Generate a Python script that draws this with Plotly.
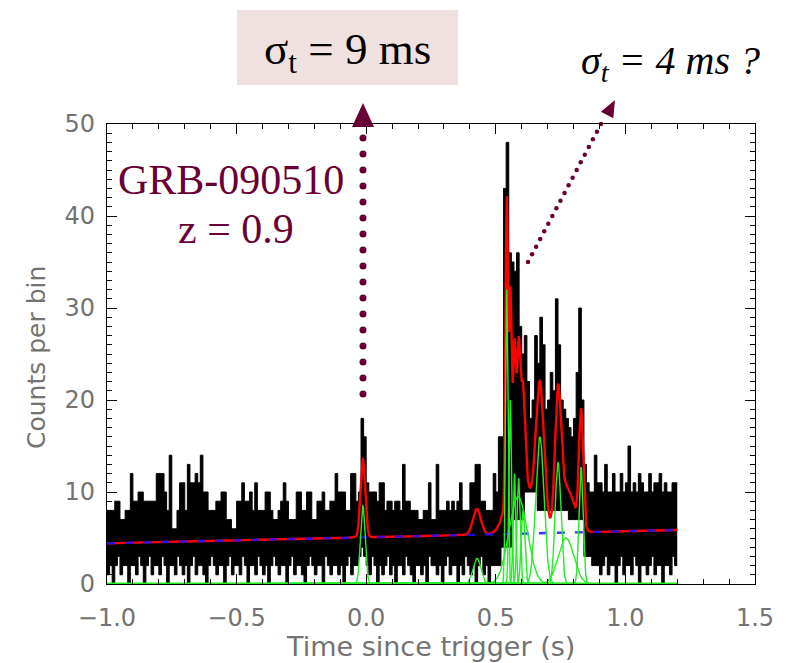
import numpy as np
import plotly.graph_objects as go

# ---------------- data ----------------
bin_start = -1.0
bin_width = 0.01

# upper / lower envelope of the counts per 10 ms column
counts_hi = [
    8, 8, 8, 9, 9, 7, 7, 8, 8, 12,
    9, 9, 10, 10, 9, 9, 9, 9, 9, 12,
    12, 12, 10, 8, 14, 6, 6, 8, 11, 11,
    8, 13, 11, 11, 12, 11, 14, 10, 10, 8,
    8, 8, 9, 9, 10, 10, 7, 7, 6, 6,
    9, 9, 11, 9, 9, 10, 8, 11, 8, 8,
    8, 10, 10, 8, 7, 7, 8, 9, 11, 9,
    7, 7, 7, 10, 10, 8, 8, 10, 10, 7,
    7, 9, 9, 10, 8, 8, 9, 9, 12, 10,
    10, 10, 8, 8, 12, 12, 9, 10, 18, 16,
    11, 10, 10, 10, 9, 11, 11, 8, 9, 9,
    8, 9, 9, 8, 13, 9, 9, 8, 8, 8,
    7, 7, 8, 8, 11, 7, 7, 13, 8, 8,
    8, 9, 8, 9, 8, 9, 11, 8, 8, 8,
    11, 11, 13, 13, 9, 9, 8, 8, 8, 12,
    10, 16, 16, 43, 48, 36, 35, 34, 36, 28,
    25, 27, 22, 18, 20, 27, 24, 29, 26, 19,
    20, 23, 21, 31, 26, 20, 19, 18, 17, 16,
    18, 23, 30, 20, 13, 11, 10, 10, 14, 11,
    11, 10, 13, 10, 10, 12, 10, 10, 12, 10,
    11, 15, 10, 11, 10, 12, 11, 10, 10, 12,
    10, 11, 11, 12, 10, 11, 10, 10, 11, 11,
]
counts_lo = [
    1, 2, 0, 2, 3, 1, 2, 2, 0, 2,
    2, 1, 3, 2, 0, 2, 3, 1, 2, 2,
    1, 3, 2, 0, 2, 2, 1, 3, 2, 1,
    2, 0, 2, 3, 1, 2, 2, 1, 0, 2,
    3, 2, 1, 2, 2, 0, 2, 3, 1, 2,
    2, 1, 3, 2, 0, 2, 2, 1, 3, 2,
    1, 2, 0, 2, 3, 2, 1, 2, 2, 0,
    2, 3, 1, 2, 2, 1, 0, 2, 3, 2,
    1, 2, 2, 0, 3, 2, 1, 2, 2, 1,
    2, 0, 2, 3, 1, 2, 2, 3, 4, 3,
    2, 1, 3, 2, 0, 2, 1, 2, 3, 1,
    2, 0, 2, 2, 1, 3, 2, 1, 0, 2,
    2, 1, 2, 0, 3, 2, 2, 1, 2, 0,
    2, 3, 1, 2, 2, 0, 2, 1, 3, 2,
    1, 2, 0, 2, 3, 1, 2, 0, 2, 2,
    2, 2, 4, 4, 4, 4, 7, 7, 7, 7,
    7, 10, 10, 10, 10, 10, 8, 8, 8, 8,
    8, 8, 8, 8, 8, 8, 8, 8, 7, 7,
    7, 7, 7, 7, 3, 3, 3, 2, 2, 2,
    1, 2, 3, 1, 2, 2, 0, 2, 3, 1,
    2, 2, 1, 3, 2, 0, 2, 2, 1, 2,
    3, 1, 2, 2, 0, 2, 2, 1, 3, 2,
]

# fitted Gaussian pulses (centre [s], amplitude [counts], width [s])
pulse_time = [-0.013, 0.427, 0.542, 0.556, 0.572, 0.588, 0.586, 0.605, 0.670, 0.740, 0.771, 0.829]
pulse_amp = [8.5, 2.8, 32.0, 20.0, 12.0, 11.5, 9.5, 8.0, 16.0, 13.2, 5.0, 12.7]
pulse_sigma = [0.009, 0.015, 0.0045, 0.005, 0.005, 0.006, 0.035, 0.007, 0.016, 0.011, 0.030, 0.008]

# linear background: level at t=0 and slope per second
bg_level = 5.08
bg_slope = 0.66
model_span = [-1.0, 1.2]

x_ticks = [-1.0, -0.5, 0.0, 0.5, 1.0, 1.5]
y_ticks = [0, 10, 20, 30, 40, 50]

# ---------------- figure ----------------
MAROON = "#690035"
GREEN = "#22ee22"
TICKCOL = "#737373"

# the page body adds an 8 px margin, so the figure is 8 px smaller on each axis
OFF = 8
FIG_W, FIG_H = 786 - OFF, 663 - OFF

n_bins = len(counts_hi)
edges = bin_start + bin_width * np.arange(n_bins + 1)
hi_y = list(counts_hi) + [counts_hi[-1]]
lo_y = list(counts_lo) + [counts_lo[-1]]

t = np.linspace(model_span[0], model_span[1], 4401)
background = bg_level + bg_slope * t
pulses = [a * np.exp(-0.5 * ((t - c) / s) ** 2) for c, a, s in zip(pulse_time, pulse_amp, pulse_sigma)]
model = background + np.sum(pulses, axis=0)

fig = go.Figure()

# histogram envelope (filled black band)
fig.add_trace(go.Scatter(x=edges, y=lo_y, mode="lines", line=dict(color="black", width=1, shape="hv"),
                         hoverinfo="skip"))
fig.add_trace(go.Scatter(x=edges, y=hi_y, mode="lines", line=dict(color="black", width=1, shape="hv"),
                         fill="tonexty", fillcolor="black", hoverinfo="skip"))

# total model
fig.add_trace(go.Scatter(x=t, y=model, mode="lines", line=dict(color="#ff0000", width=2.4)))
# background
fig.add_trace(go.Scatter(x=t, y=background, mode="lines",
                         line=dict(color="rgba(20,20,255,0.85)", width=2.4, dash="8px,10px")))
# individual pulses
fig.add_trace(go.Scatter(x=t, y=np.zeros_like(t), mode="lines", line=dict(color=GREEN, width=3)))
for p in pulses:
    fig.add_trace(go.Scatter(x=t, y=p, mode="lines", line=dict(color=GREEN, width=1.4)))

# ---------------- annotation geometry (screen pixel space) ----------------
L, R, T, B = 107, 755, 124, 584


def px(x, y):
    return f"{(x - L) / (R - L):.5f},{(B - y) / (B - T):.5f}"


# dotted arrow 1 (vertical)
d1_y = np.arange(394, 134, -16)
d1_x = np.full_like(d1_y, 363, dtype=float)
# dotted arrow 2 (diagonal)
d2_x = np.linspace(528, 601, 19)
d2_y = np.linspace(262, 124, 19)

fig.add_trace(go.Scatter(x=d1_x, y=d1_y, xaxis="x2", yaxis="y2", mode="markers", cliponaxis=False,
                         marker=dict(color=MAROON, size=7, line=dict(width=0))))
fig.add_trace(go.Scatter(x=d2_x, y=d2_y, xaxis="x2", yaxis="y2", mode="markers", cliponaxis=False,
                         marker=dict(color=MAROON, size=4.5, line=dict(width=0))))

shapes = [
    dict(type="rect", xref="paper", yref="paper",
         x0=(237 - L) / (R - L), x1=(458 - L) / (R - L),
         y0=(B - 85) / (B - T), y1=(B - 10) / (B - T),
         fillcolor="#f0e1e1", line=dict(width=0), layer="below"),
    dict(type="path", xref="paper", yref="paper",
         path=f"M{px(363, 103)} L{px(374, 127)} L{px(352, 127)} Z",
         fillcolor=MAROON, line=dict(width=0)),
    dict(type="path", xref="paper", yref="paper",
         path=f"M{px(615, 100)} L{px(613.3, 118.3)} L{px(600.9, 111.7)} Z",
         fillcolor=MAROON, line=dict(width=0)),
]


def ann(text, x, y, size, color, family, angle=0):
    return dict(text=text, xref="paper", yref="paper", x=(x - L) / (R - L), y=(B - y) / (B - T),
                xanchor="center", yanchor="middle", showarrow=False, textangle=angle,
                font=dict(family=family, size=size, color=color))


annotations = [
    ann("σ<sub>t</sub> = 9 ms", 347, 52, 45, "black", "Liberation Serif"),
    ann("<i>σ<sub>t</sub> = 4 ms ?</i>", 670, 63, 40, "black", "Liberation Serif"),
    ann("GRB-090510", 231, 180, 42, MAROON, "Liberation Serif"),
    ann("z = 0.9", 236, 229, 42, MAROON, "Liberation Serif"),
    # axis titles
    ann("Time since trigger (s)", 430, 646, 27, TICKCOL, "DejaVu Sans"),
    ann("Counts per bin", 36, 358, 25, TICKCOL, "DejaVu Sans", angle=-90),
]

axis_common = dict(showgrid=False, zeroline=False, showline=True, linecolor="black", linewidth=1.3,
                   mirror="allticks", ticks="inside", ticklen=10, tickwidth=1.2, tickcolor="black",
                   automargin=False,
                   tickfont=dict(family="DejaVu Sans", size=24, color=TICKCOL))

fig.update_layout(
    width=FIG_W, height=FIG_H, autosize=False,
    margin=dict(l=L - OFF, r=786 - R, t=T - OFF, b=663 - B, pad=0),
    paper_bgcolor="white", plot_bgcolor="white", showlegend=False,
    shapes=shapes, annotations=annotations,
    xaxis=dict(range=[-1.0, 1.5], tickvals=x_ticks, tickformat=".1f",
               minor=dict(dtick=0.1, ticks="inside", ticklen=5, tickcolor="black", tickwidth=1.2),
               ticklabelstandoff=12,
               **axis_common),
    yaxis=dict(range=[0, 50], tickvals=y_ticks,
               minor=dict(dtick=1, ticks="inside", ticklen=5, tickcolor="black", tickwidth=1.2),
               ticklabelstandoff=6,
               **axis_common),
    xaxis2=dict(overlaying="x", anchor="y2", range=[L, R], visible=False),
    yaxis2=dict(overlaying="y", anchor="x2", range=[B, T], visible=False),
)

fig.write_html("out.html")
